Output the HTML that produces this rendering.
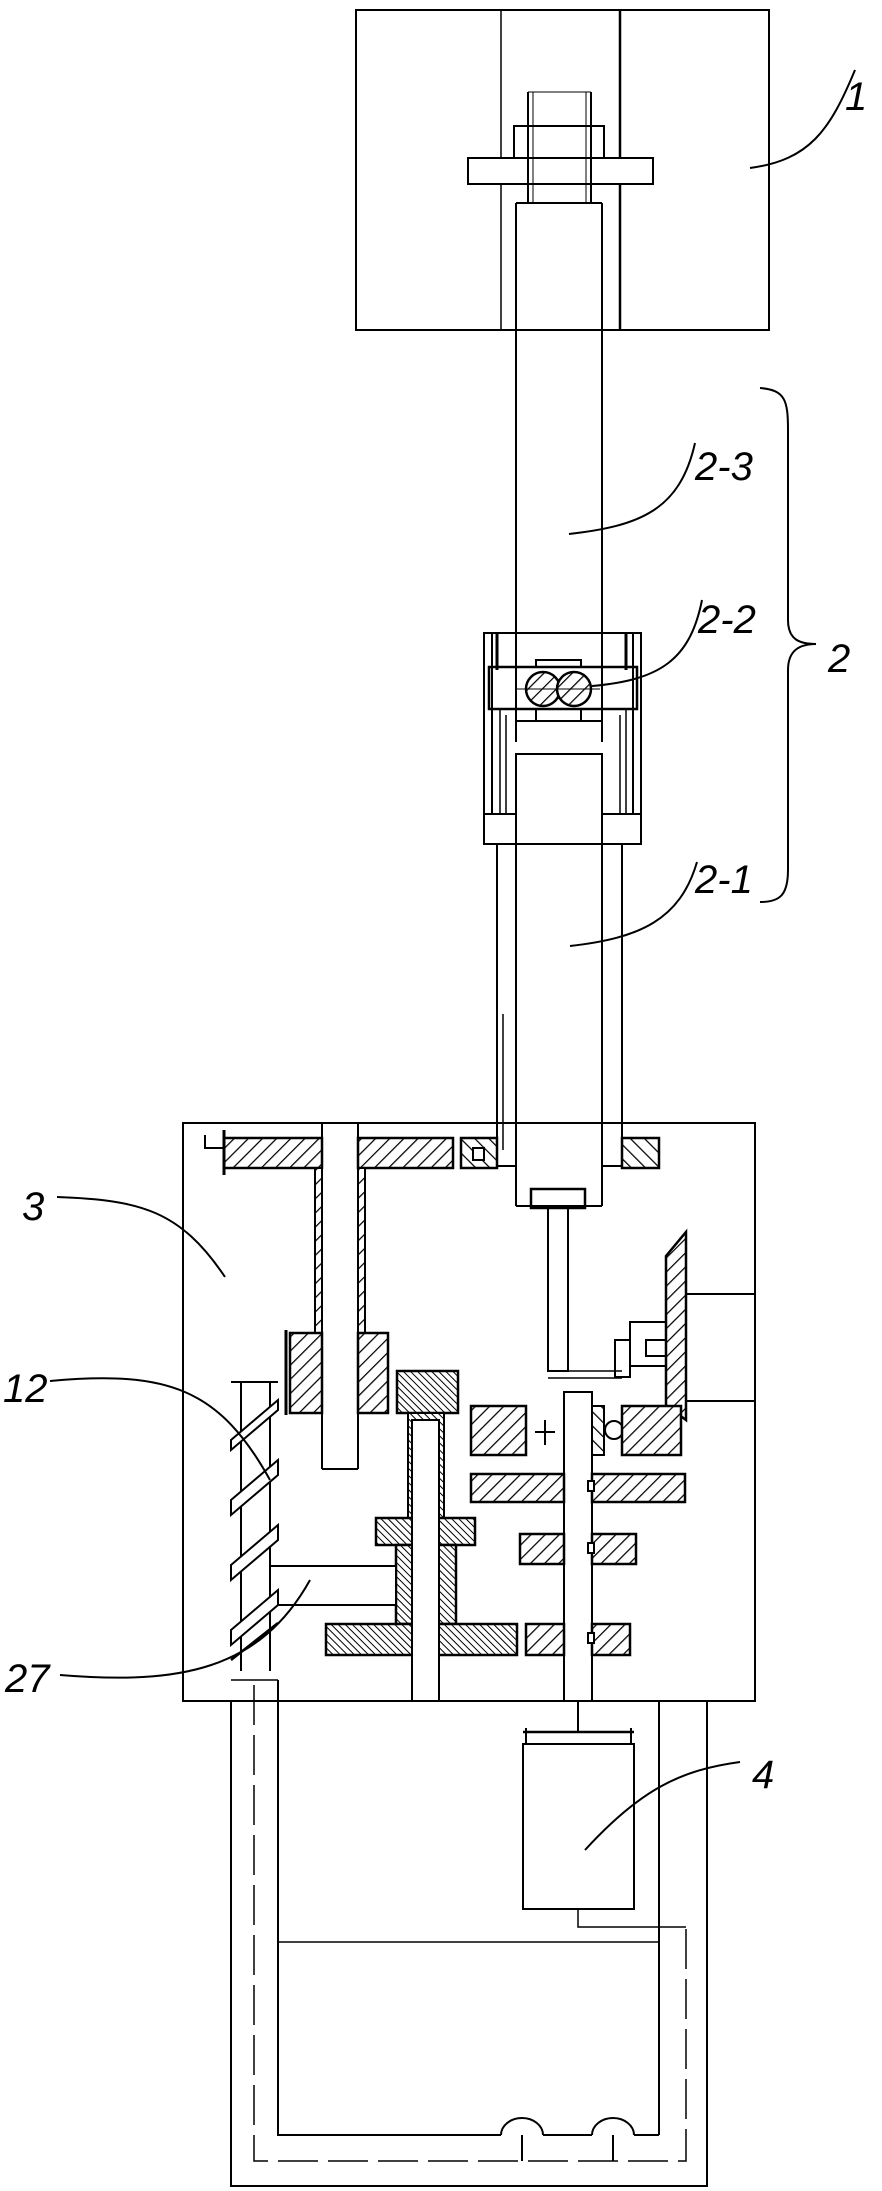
<!DOCTYPE html>
<html><head><meta charset="utf-8"><style>
html,body{margin:0;padding:0;background:#fff}
svg{display:block}
text{font-family:"Liberation Sans",sans-serif;font-style:italic;font-size:40px;fill:#000}
</style></head><body>
<svg width="882" height="2191" viewBox="0 0 882 2191" xmlns="http://www.w3.org/2000/svg">
<defs>
<pattern id="h1" width="10" height="10" patternUnits="userSpaceOnUse" patternTransform="rotate(45)"><rect width="10" height="10" fill="#fff"/><line x1="0" y1="0" x2="0" y2="10" stroke="#000" stroke-width="2.5"/></pattern>
<pattern id="h2" width="10" height="10" patternUnits="userSpaceOnUse" patternTransform="rotate(-45)"><rect width="10" height="10" fill="#fff"/><line x1="0" y1="0" x2="0" y2="10" stroke="#000" stroke-width="2.5"/></pattern>
<pattern id="h3" width="5" height="5" patternUnits="userSpaceOnUse" patternTransform="rotate(-45)"><rect width="5" height="5" fill="#fff"/><line x1="0" y1="0" x2="0" y2="5" stroke="#000" stroke-width="2"/></pattern>
</defs>
<g fill="none" stroke="#000" stroke-width="2">
<!-- part 1 -->
<rect x="356" y="10" width="413" height="320"/>
<line x1="501" y1="10" x2="501" y2="330" stroke-width="1.5"/>
<line x1="620" y1="10" x2="620" y2="330" stroke-width="2.5"/>
<rect x="468" y="158" width="185" height="26" fill="#fff"/>
<rect x="514" y="126" width="90" height="32"/>
<line x1="528" y1="92" x2="528" y2="203"/><line x1="533" y1="92" x2="533" y2="203" stroke-width="1"/>
<line x1="591" y1="92" x2="591" y2="203"/><line x1="586" y1="92" x2="586" y2="203" stroke-width="1"/>
<line x1="528" y1="92" x2="591" y2="92" stroke-width="1"/>
<!-- shaft 2-3 -->
<line x1="516" y1="203" x2="516" y2="742"/><line x1="602" y1="203" x2="602" y2="742"/>
<line x1="516" y1="203" x2="602" y2="203"/>
<!-- middle assembly -->
<rect x="484" y="633" width="157" height="211"/>
<line x1="492" y1="633" x2="492" y2="814"/><line x1="497" y1="633" x2="497" y2="670" stroke-width="3"/>
<line x1="633" y1="633" x2="633" y2="814"/><line x1="626" y1="633" x2="626" y2="670" stroke-width="3"/>
<rect x="489" y="667" width="148" height="42" stroke-width="2.5"/>
<rect x="536" y="660" width="45" height="7"/><rect x="536" y="709" width="45" height="12"/>
<line x1="500" y1="709" x2="500" y2="814" stroke-width="1.5"/><line x1="506" y1="715" x2="506" y2="814" stroke-width="1.5"/>
<line x1="626" y1="709" x2="626" y2="814" stroke-width="1.5"/><line x1="620" y1="715" x2="620" y2="814" stroke-width="1.5"/>
<polyline points="516,742 516,721 602,721 602,742" />
<circle cx="543" cy="689" r="17" fill="url(#h1)" stroke-width="2.5"/>
<circle cx="574" cy="689" r="17" fill="url(#h1)" stroke-width="2.5"/>
<line x1="517" y1="689" x2="600" y2="689" stroke-width="1"/>
<line x1="484" y1="814" x2="516" y2="814"/><line x1="602" y1="814" x2="641" y2="814"/>
<!-- shaft 2-1 -->
<polyline points="516,844 516,754 602,754 602,844"/>
<line x1="516" y1="844" x2="516" y2="1206"/><line x1="602" y1="844" x2="602" y2="1206"/>
<line x1="497" y1="844" x2="497" y2="1166"/><line x1="622" y1="844" x2="622" y2="1166"/>
<line x1="503" y1="1014" x2="503" y2="1150" stroke-width="1.5"/>
<!-- brace 2 -->
<path d="M760 388 C785 390 788 400 788 430 L788 620 C788 640 800 644 816 644 C800 644 788 650 788 670 L788 870 C788 895 780 902 760 902"/>
<!-- leaders -->
<path d="M750 168 C810 160 830 130 855 70"/>
<path d="M569 534 C640 526 680 510 695 443"/>
<path d="M592 686 C660 680 690 660 702 600"/>
<path d="M570 946 C640 938 680 920 697 862"/>
<!-- main box 3 -->
<rect x="183" y="1123" width="572" height="578"/>
<!-- top plate -->
<rect x="224" y="1138" width="98" height="30" fill="url(#h1)" stroke-width="2.5"/>
<rect x="358" y="1138" width="95" height="30" fill="url(#h1)" stroke-width="2.5"/>
<rect x="461" y="1138" width="36" height="30" fill="url(#h2)" stroke-width="2.5"/>
<rect x="473" y="1148" width="11" height="12" fill="#fff"/>
<rect x="622" y="1138" width="37" height="30" fill="url(#h2)" stroke-width="2.5"/>
<line x1="224" y1="1130" x2="224" y2="1175" stroke-width="3"/><polyline points="205,1135 205,1148 224,1148"/>
<line x1="322" y1="1123" x2="322" y2="1469"/><line x1="358" y1="1123" x2="358" y2="1469"/>
<line x1="322" y1="1469" x2="358" y2="1469"/>
<rect x="315" y="1168" width="7" height="165" fill="url(#h1)"/>
<rect x="358" y="1168" width="7" height="165" fill="url(#h1)"/>
<rect x="290" y="1333" width="32" height="80" fill="url(#h1)" stroke-width="2.5"/>
<rect x="358" y="1333" width="30" height="80" fill="url(#h1)" stroke-width="2.5"/>
<line x1="286" y1="1330" x2="286" y2="1415" stroke-width="3"/>
<!-- tube end -->
<line x1="497" y1="1166" x2="516" y2="1166"/><line x1="602" y1="1166" x2="622" y2="1166"/>
<line x1="516" y1="1206" x2="602" y2="1206"/>
<rect x="531" y="1189" width="54" height="19" stroke-width="2.5"/>
<polyline points="548,1208 548,1371 568,1371 568,1208"/>
<line x1="548" y1="1371" x2="622" y2="1371" stroke-width="1.5"/><line x1="548" y1="1378" x2="622" y2="1378" stroke-width="1.5"/>
<!-- right bevel -->
<polygon points="666,1256 686,1232 686,1420 666,1405" fill="url(#h1)" stroke-width="2.5"/>
<line x1="686" y1="1294" x2="755" y2="1294"/><line x1="686" y1="1401" x2="755" y2="1401"/>
<rect x="630" y="1322" width="36" height="44"/><rect x="615" y="1340" width="15" height="37"/>
<rect x="646" y="1340" width="20" height="16"/>
<!-- gear shaft -->
<rect x="564" y="1392" width="28" height="309" fill="#fff"/>
<rect x="471" y="1406" width="55" height="49" fill="url(#h1)" stroke-width="2.5"/>
<line x1="545" y1="1420" x2="545" y2="1445"/><line x1="535" y1="1432" x2="555" y2="1432"/>
<rect x="592" y="1406" width="12" height="49" fill="url(#h2)"/>
<circle cx="614" cy="1430" r="9"/>
<rect x="622" y="1406" width="59" height="49" fill="url(#h1)" stroke-width="2.5"/>
<rect x="471" y="1474" width="93" height="28" fill="url(#h1)" stroke-width="2.5"/>
<rect x="592" y="1474" width="93" height="28" fill="url(#h1)" stroke-width="2.5"/>
<rect x="520" y="1534" width="44" height="30" fill="url(#h1)" stroke-width="2.5"/>
<rect x="592" y="1534" width="44" height="30" fill="url(#h1)" stroke-width="2.5"/>
<rect x="526" y="1624" width="38" height="31" fill="url(#h1)" stroke-width="2.5"/>
<rect x="592" y="1624" width="38" height="31" fill="url(#h1)" stroke-width="2.5"/>
<rect x="588" y="1481" width="6" height="10" fill="#fff"/><rect x="588" y="1543" width="6" height="10" fill="#fff"/><rect x="588" y="1633" width="6" height="10" fill="#fff"/>
<!-- center spindle -->
<rect x="397" y="1371" width="61" height="42" fill="url(#h3)" stroke-width="2.5"/>
<rect x="408" y="1413" width="36" height="120" fill="url(#h3)"/>
<rect x="376" y="1518" width="99" height="27" fill="url(#h3)" stroke-width="2.5"/>
<rect x="396" y="1545" width="60" height="79" fill="url(#h3)" stroke-width="2.5"/>
<rect x="326" y="1624" width="191" height="31" fill="url(#h3)" stroke-width="2.5"/>
<rect x="412" y="1420" width="27" height="281" fill="#fff"/>
<!-- bar 27 -->
<rect x="270" y="1566" width="126" height="39" fill="#fff"/>
<!-- helical left -->
<line x1="241" y1="1382" x2="241" y2="1671"/><line x1="270" y1="1382" x2="270" y2="1671"/>
<line x1="231" y1="1382" x2="278" y2="1382"/>
<polygon points="231,1440 278,1400 278,1410 231,1450" fill="#fff"/>
<polygon points="231,1500 278,1460 278,1475 231,1515" fill="#fff"/>
<polygon points="231,1565 278,1525 278,1540 231,1580" fill="#fff"/>
<polygon points="231,1630 278,1590 278,1605 231,1645" fill="#fff"/>
<line x1="231" y1="1660" x2="278" y2="1623" stroke-width="2.5"/>
<!-- lower box -->
<rect x="231" y="1701" width="476" height="485"/>
<line x1="231" y1="1680" x2="278" y2="1680" stroke-width="1.5"/>
<line x1="278" y1="1680" x2="278" y2="2135"/>
<line x1="578" y1="1701" x2="578" y2="1732"/>
<line x1="523" y1="1732" x2="634" y2="1732" stroke-width="2.5"/>
<line x1="526" y1="1728" x2="526" y2="1744"/><line x1="631" y1="1728" x2="631" y2="1744"/>
<rect x="523" y="1744" width="111" height="165"/>
<polyline points="578,1909 578,1927 686,1927" stroke-width="1.5"/>
<line x1="277" y1="1942" x2="659" y2="1942" stroke-width="1.5"/>
<line x1="659" y1="1701" x2="659" y2="2135" stroke-width="2"/>
<polyline points="277,2135 501,2135"/><polyline points="543,2135 592,2135"/><polyline points="634,2135 659,2135"/>
<path d="M501 2135 A21 17 0 0 1 543 2135"/>
<path d="M592 2135 A21 17 0 0 1 634 2135"/>
<line x1="522" y1="2135" x2="522" y2="2161"/><line x1="613" y1="2135" x2="613" y2="2161"/>
<path d="M254 1685 L254 2161 L686 2161 L686 1927" stroke-dasharray="40 10" stroke-width="1.5"/>
<!-- leaders lower -->
<path d="M57 1197 C140 1200 180 1210 225 1277"/>
<path d="M50 1381 C170 1370 220 1390 270 1480"/>
<path d="M60 1675 C180 1685 260 1670 310 1580"/>
<path d="M585 1850 C640 1790 680 1770 740 1762"/>
</g>
<text x="845" y="110">1</text>
<text x="695" y="480">2-3</text>
<text x="698" y="633">2-2</text>
<text x="695" y="893">2-1</text>
<text x="828" y="672">2</text>
<text x="22" y="1220">3</text>
<text x="3" y="1402">12</text>
<text x="5" y="1692">27</text>
<text x="752" y="1788">4</text>
</svg>
</body></html>
